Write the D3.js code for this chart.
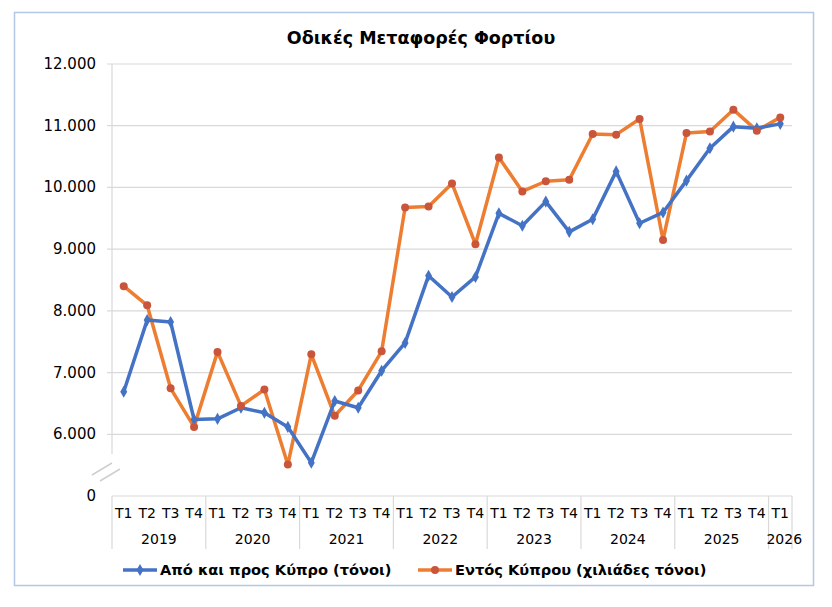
<!DOCTYPE html>
<html>
<head>
<meta charset="utf-8">
<script src="https://cdn.jsdelivr.net/npm/d3@7"></script>
<style>
  body { margin: 0; background: #fff; }
  svg { font-family: "DejaVu Sans", Verdana, sans-serif; }
</style>
</head>
<body>
<div id="chart"></div>
<script>
/**
 * DATA
 * */
const years = ["2019", "2020", "2021", "2022", "2023", "2024", "2025", "2026"];
const quarters = ["T1", "T2", "T3", "T4"];
const categories = [];
years.forEach(y => quarters.forEach(q => categories.push({ year: y, q: q })));
categories.splice(29); // up to 2026 T1

const blueValues = [
  6690, 7850, 7820, 6240,
  6250, 6430, 6350, 6120,
  5540, 6540, 6430, 7030,
  7480, 8570, 8225, 8550,
  9580, 9380, 9770, 9280,
  9485, 10260, 9420, 9595,
  10110, 10635, 10985, 10960,
  11030
];
const orangeValues = [
  8400, 8090, 6745, 6120,
  7335, 6460, 6725, 5510,
  7295, 6300, 6710, 7345,
  9675, 9690, 10065, 9080,
  10485, 9935, 10100, 10125,
  10865, 10855, 11110, 9150,
  10880, 10905, 11260, 10920,
  11135
];
const seriesNames = ["Από και προς Κύπρο (τόνοι)", "Εντός Κύπρου (χιλιάδες τόνοι)"];
const yTicks = [6000, 7000, 8000, 9000, 10000, 11000, 12000];
const title = "Οδικές Μεταφορές Φορτίου";

/**
 * CONSTANTS
 * */
const width = 832,
  height = 607,
  plot = { left: 112, right: 792, top: 64, bottom: 496 };
const blue = "#4472c4",
  orange = "#ed7d31",
  orangeMarker = "#c9553b",
  grid = "#d9d9d9";

const locale = d3.formatLocale({ decimal: ",", thousands: ".", grouping: [3], currency: ["", "€"] });
const fmt = locale.format(",");

const svg = d3.select("#chart").append("svg")
  .attr("width", width)
  .attr("height", height);

// chart frame
svg.append("rect")
  .attr("x", 14.5).attr("y", 12.5)
  .attr("width", 799).attr("height", 573)
  .attr("fill", "#fff")
  .attr("stroke", "#b4c7e4")
  .attr("stroke-width", 1.5);

svg.append("text")
  .attr("x", 421).attr("y", 44)
  .attr("text-anchor", "middle")
  .attr("font-size", 17.5)
  .attr("font-weight", "bold")
  .text(title);

/**
 * SCALES
 * the axis is broken: the "0" label sits one step below 6.000
 * */
const x = d3.scaleBand()
  .domain(d3.range(categories.length))
  .range([plot.left, plot.right])
  .padding(0);
const cx = i => x(i) + x.bandwidth() / 2;

const y = d3.scaleLinear()
  .domain([5000, 12000])
  .range([plot.bottom, plot.top]);

// gridlines
svg.append("g")
  .selectAll("line")
  .data(yTicks)
  .join("line")
  .attr("x1", plot.left - 5).attr("x2", plot.right)
  .attr("y1", d => y(d)).attr("y2", d => y(d))
  .attr("stroke", grid)
  .attr("stroke-width", 1.2);

// y labels
svg.append("g")
  .selectAll("text")
  .data(yTicks)
  .join("text")
  .attr("x", 96).attr("y", d => y(d) + 5)
  .attr("text-anchor", "end")
  .attr("font-size", 15)
  .text(d => fmt(d));

svg.append("text")
  .attr("x", 96).attr("y", y(5000) + 5)
  .attr("text-anchor", "end")
  .attr("font-size", 15)
  .text("0");

// y axis line (stops before the break)
svg.append("line")
  .attr("x1", plot.left).attr("x2", plot.left)
  .attr("y1", plot.top).attr("y2", y(6000) + 20)
  .attr("stroke", grid).attr("stroke-width", 1.2);

// break marks
svg.append("g")
  .selectAll("line")
  .data([0, 1])
  .join("line")
  .attr("x1", d => 92 + d * 8).attr("y1", d => 475 + d * 6)
  .attr("x2", d => 112 + d * 8).attr("y2", d => 463 + d * 6)
  .attr("stroke", "#cfcfcf").attr("stroke-width", 1.5);

// x axis
svg.append("line")
  .attr("x1", plot.left).attr("x2", plot.right)
  .attr("y1", plot.bottom).attr("y2", plot.bottom)
  .attr("stroke", grid).attr("stroke-width", 1.2);

const yearStarts = d3.range(0, categories.length, 4).concat([categories.length]);
svg.append("g")
  .selectAll("line")
  .data(yearStarts)
  .join("line")
  .attr("x1", d => d < categories.length ? x(d) : plot.right)
  .attr("x2", d => d < categories.length ? x(d) : plot.right)
  .attr("y1", plot.bottom).attr("y2", 549)
  .attr("stroke", grid).attr("stroke-width", 1.2);

svg.append("g")
  .selectAll("text")
  .data(categories)
  .join("text")
  .attr("x", (d, i) => cx(i))
  .attr("y", 518)
  .attr("text-anchor", "middle")
  .attr("font-size", 14)
  .text(d => d.q);

svg.append("g")
  .selectAll("text")
  .data(years)
  .join("text")
  .attr("x", (d, i) => {
    const first = i * 4;
    const last = Math.min(first + 3, categories.length - 1);
    return (cx(first) + cx(last)) / 2 + (last === first ? 4 : 0);
  })
  .attr("y", 544)
  .attr("text-anchor", "middle")
  .attr("font-size", 14)
  .text(d => d);

/**
 * LINES
 * */
const line = d3.line()
  .x((d, i) => cx(i))
  .y(d => y(d));

svg.append("path")
  .datum(orangeValues)
  .attr("fill", "none")
  .attr("stroke", orange)
  .attr("stroke-width", 3.5)
  .attr("stroke-linejoin", "round")
  .attr("d", line);

svg.append("path")
  .datum(blueValues)
  .attr("fill", "none")
  .attr("stroke", blue)
  .attr("stroke-width", 3.5)
  .attr("stroke-linejoin", "round")
  .attr("d", line);

const diamond = d3.symbol().type(d3.symbolDiamond).size(42);

svg.append("g")
  .selectAll("path")
  .data(blueValues)
  .join("path")
  .attr("transform", (d, i) => `translate(${cx(i)},${y(d)})`)
  .attr("d", diamond)
  .attr("fill", blue);

svg.append("g")
  .selectAll("circle")
  .data(orangeValues)
  .join("circle")
  .attr("cx", (d, i) => cx(i))
  .attr("cy", d => y(d))
  .attr("r", 4)
  .attr("fill", orangeMarker);

/**
 * LEGEND
 * */
const legend = [
  { name: seriesNames[0], color: blue, marker: "diamond", x: 123 },
  { name: seriesNames[1], color: orange, marker: "circle", x: 418 }
];
const lg = svg.append("g")
  .selectAll("g")
  .data(legend)
  .join("g")
  .attr("transform", d => `translate(${d.x},570)`);

lg.append("line")
  .attr("x1", 0).attr("x2", 34)
  .attr("stroke", d => d.color)
  .attr("stroke-width", 3.5);

lg.filter(d => d.marker === "diamond")
  .append("path")
  .attr("transform", "translate(17,0)")
  .attr("d", diamond)
  .attr("fill", blue);

lg.filter(d => d.marker === "circle")
  .append("circle")
  .attr("cx", 17).attr("r", 4)
  .attr("fill", orangeMarker);

lg.append("text")
  .attr("x", 37).attr("y", 5)
  .attr("font-size", 14.6)
  .attr("font-weight", "bold")
  .text(d => d.name);
</script>
</body>
</html>
